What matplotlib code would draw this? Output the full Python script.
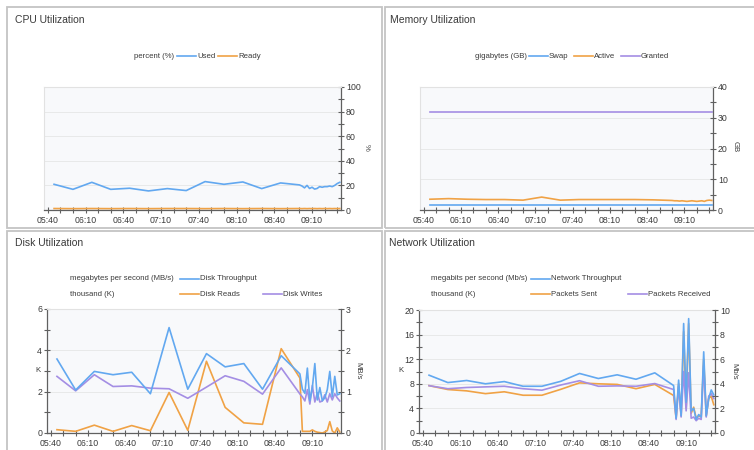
import numpy as np
import matplotlib
matplotlib.use('Agg')
from matplotlib import pyplot as plt
from matplotlib.lines import Line2D
from matplotlib.patches import Rectangle
from matplotlib.ticker import MultipleLocator, FixedLocator

plt.rcParams['font.family'] = ['Liberation Sans', 'DejaVu Sans']

# ---------------------------- Data ----------------------------
time_labels = ['05:40', '06:10', '06:40', '07:10', '07:40', '08:10', '08:40', '09:10']
label_minutes = [0, 30, 60, 90, 120, 150, 180, 210]          # minutes after 05:40
sample_minutes = [5, 20, 35, 50, 65, 80, 95, 110, 125, 140, 155, 170, 185, 200,
                  202, 204, 206, 208, 210, 212, 214, 216, 218, 220, 222, 224, 226, 228, 230, 232]

# CPU (%)
cpu_used = [20.9, 16.8, 22.5, 16.8, 17.7, 15.5, 17.4, 15.8, 23.1, 20.9, 22.8, 17.4, 22.0, 20.4,
            19.5, 18.0, 20.0, 17.5, 18.5, 17.0, 17.5, 19.0, 18.5, 19.0, 19.0, 19.5, 19.0, 20.0, 21.5, 22.5]
cpu_ready = [1.2, 1.1, 1.2, 1.1, 1.2, 1.1, 1.2, 1.2, 1.1, 1.2, 1.1, 1.2, 1.1, 1.2,
             1.1, 1.2, 1.1, 1.2, 1.1, 1.2, 1.1, 1.2, 1.1, 1.2, 1.1, 1.2, 1.1, 1.2, 1.1, 1.2]

# Memory (GB)
mem_swap = [1.6, 1.6, 1.6, 1.6, 1.6, 1.6, 1.6, 1.6, 1.6, 1.6, 1.6, 1.6, 1.6, 1.6,
            1.6, 1.6, 1.6, 1.6, 1.6, 1.6, 1.6, 1.6, 1.6, 1.6, 1.6, 1.6, 1.6, 1.6, 1.6, 1.6]
mem_active = [3.5, 3.7, 3.5, 3.4, 3.4, 3.2, 4.2, 3.2, 3.4, 3.4, 3.4, 3.4, 3.3, 3.1,
              3.0, 3.0, 2.9, 3.0, 2.9, 2.8, 2.9, 3.0, 2.9, 2.8, 2.9, 3.0, 2.8, 3.1, 3.2, 3.1]
mem_granted = [32, 32, 32, 32, 32, 32, 32, 32, 32, 32, 32, 32, 32, 32,
               32, 32, 32, 32, 32, 32, 32, 32, 32, 32, 32, 32, 32, 32, 32, 32]

# Disk
disk_throughput = [1.79, 1.04, 1.49, 1.41, 1.47, 0.95, 2.55, 1.06, 1.92, 1.60, 1.68, 1.06, 1.87, 1.43,
                   1.06, 0.96, 1.57, 0.78, 1.10, 1.68, 0.80, 1.10, 0.78, 0.85, 1.05, 1.49, 0.88, 1.37, 0.92, 0.95]  # MB/s
disk_reads = [0.16, 0.08, 0.38, 0.08, 0.36, 0.11, 1.96, 0.13, 3.47, 1.24, 0.49, 0.42, 4.08, 2.66,
              0.08, 0.08, 0.08, 0.08, 0.15, 0.08, 0.04, 0.02, 0.0, 0.05, 0.12, 0.55, 0.1, 0.0, 0.25, 0.05]   # K
disk_writes = [2.74, 2.04, 2.82, 2.25, 2.28, 2.17, 2.14, 1.68, 2.22, 2.77, 2.5, 1.88, 3.15, 1.89,
               1.75, 1.55, 2.1, 1.4, 2.3, 1.5, 1.95, 1.5, 1.55, 1.85, 1.5, 1.9, 1.6, 1.9, 1.7, 1.55]       # K

# Network
net_throughput = [4.7, 4.1, 4.27, 4.0, 4.18, 3.8, 3.8, 4.2, 4.84, 4.43, 4.73, 4.37, 4.89, 3.86,
                  1.2, 4.3, 1.4, 8.9, 2.5, 9.3, 1.8, 2.0, 1.1, 1.5, 1.3, 6.6, 1.4, 2.8, 3.5, 3.1]      # Mb/s
net_sent = [7.7, 7.07, 6.85, 6.4, 6.7, 6.14, 6.14, 7.1, 8.15, 8.0, 7.9, 7.2, 7.9, 6.1,
            2.4, 8.0, 2.8, 16.5, 4.0, 17.8, 3.2, 4.2, 2.4, 2.8, 2.6, 12.0, 2.8, 5.6, 6.0, 4.6]        # K
net_received = [7.7, 7.2, 7.4, 7.5, 7.6, 7.2, 6.96, 7.8, 8.5, 7.6, 7.66, 7.6, 8.04, 7.07,
                2.2, 7.6, 2.6, 10.0, 3.6, 9.8, 2.4, 2.6, 2.0, 2.4, 2.2, 11.0, 2.6, 6.0, 6.4, 5.6]  # K

# ---------------------------- Style ----------------------------
W, H = 754, 450
BLUE = '#62a8f0'
ORANGE = '#f0a245'
PURPLE = '#a48ee4'
TEXT = '#3a3a3a'
SPINE = '#606060'
LW = 1.2
TICK_FS = 6.3
LEG_FS = 5.6


def fx(x):
    return x / W


def fy(y):
    return 1 - y / H


def add_ax(x0, y0, x1, y1):
    return fig.add_axes([fx(x0), fy(y1), (x1 - x0) / W, (y1 - y0) / H])


def style_time_axis(ax):
    ax.set_xlim(-3, 233)
    ax.xaxis.set_major_locator(FixedLocator(label_minutes))
    ax.set_xticklabels(time_labels)
    ax.xaxis.set_minor_locator(MultipleLocator(10))
    ax.tick_params(axis='x', which='both', direction='inout', length=4, width=0.8,
                   color=SPINE, labelsize=TICK_FS, labelcolor=TEXT, pad=2.5)
    ax.set_facecolor('#f8f9fb')
    ax.spines['top'].set_color('#e2e2e2')
    ax.spines['bottom'].set_color(SPINE)
    ax.spines['bottom'].set_linewidth(0.9)
    ax.yaxis.grid(True, color='#e6e6e6', lw=0.6)
    ax.set_axisbelow(True)


def style_y(ax, side, top, major, minor):
    ax.set_ylim(0, top)
    ax.yaxis.set_major_locator(MultipleLocator(major))
    ax.yaxis.set_minor_locator(MultipleLocator(minor))
    ax.tick_params(axis='y', which='both', direction='inout', length=4, width=0.8,
                   color=SPINE, labelsize=TICK_FS, labelcolor=TEXT, pad=1.5)
    if side == 'right':
        ax.yaxis.tick_right()
        ax.spines['right'].set_color(SPINE)
        ax.spines['right'].set_linewidth(0.9)
    else:
        ax.spines['left'].set_color(SPINE)
        ax.spines['left'].set_linewidth(0.9)


def legend_item(x_line, y, color, label):
    fig.add_artist(Line2D([fx(x_line), fx(x_line + 19)], [fy(y), fy(y)], color=color, lw=LW))
    fig.text(fx(x_line + 20), fy(y), label, fontsize=LEG_FS, color=TEXT, va='center', ha='left')


fig = plt.figure(figsize=(W / 100, H / 100), dpi=100)

# panel frames
for (x0, y0, x1, y1) in [(7, 7, 382, 228), (385, 7, 760, 228), (7, 231, 382, 460), (385, 231, 760, 460)]:
    fig.add_artist(Rectangle((fx(x0), fy(y1)), (x1 - x0) / W, (y1 - y0) / H, transform=fig.transFigure,
                             fill=False, edgecolor='#c4c4c4', lw=1.3))

# ---------------------------- CPU ----------------------------
fig.text(fx(15), fy(20), 'CPU Utilization', fontsize=7.5, color=TEXT, va='center')
ax = add_ax(44, 87, 341, 210)
style_time_axis(ax)
ax.spines['left'].set_color('#e2e2e2')
style_y(ax, 'right', 100, 20, 10)
ax.tick_params(axis='y', which='both', left=False)
ax.plot(sample_minutes, cpu_used, color=BLUE, lw=LW)
ax.plot(sample_minutes, cpu_ready, color=ORANGE, lw=LW)
fig.text(fx(366), fy(147), '%', fontsize=LEG_FS, color=TEXT, va='center', ha='center', rotation=-90)
fig.text(fx(174), fy(56), 'percent (%)', fontsize=LEG_FS, color=TEXT, va='center', ha='right')
legend_item(177, 56, BLUE, 'Used')
legend_item(218, 56, ORANGE, 'Ready')

# ---------------------------- Memory ----------------------------
fig.text(fx(390), fy(20), 'Memory Utilization', fontsize=7.5, color=TEXT, va='center')
ax = add_ax(420, 87, 713, 210)
style_time_axis(ax)
ax.spines['left'].set_color('#e2e2e2')
style_y(ax, 'right', 40, 10, 5)
ax.tick_params(axis='y', which='both', left=False)
ax.plot(sample_minutes, mem_swap, color=BLUE, lw=LW)
ax.plot(sample_minutes, mem_active, color=ORANGE, lw=LW)
ax.plot(sample_minutes, mem_granted, color=PURPLE, lw=LW)
fig.text(fx(735), fy(147), 'GB', fontsize=LEG_FS, color=TEXT, va='center', ha='center', rotation=-90)
fig.text(fx(527), fy(56), 'gigabytes (GB)', fontsize=LEG_FS, color=TEXT, va='center', ha='right')
legend_item(529, 56, BLUE, 'Swap')
legend_item(574, 56, ORANGE, 'Active')
legend_item(621, 56, PURPLE, 'Granted')

# ---------------------------- Disk ----------------------------
fig.text(fx(15), fy(243), 'Disk Utilization', fontsize=7.5, color=TEXT, va='center')
ax = add_ax(47, 309, 341, 433)
style_time_axis(ax)
style_y(ax, 'left', 6, 2, 1)
ax.spines['right'].set_visible(False)
ax.plot(sample_minutes, disk_reads, color=ORANGE, lw=LW)
ax.plot(sample_minutes, disk_writes, color=PURPLE, lw=LW)
ax2 = ax.twinx()
ax2.set_xlim(-3, 233)
for s in ['top', 'left', 'bottom']:
    ax2.spines[s].set_visible(False)
style_y(ax2, 'right', 3, 1, 0.5)
ax2.plot(sample_minutes, disk_throughput, color=BLUE, lw=LW)
fig.text(fx(38), fy(371), 'K', fontsize=LEG_FS, color=TEXT, va='center', ha='center')
fig.text(fx(358), fy(371), 'MB/s', fontsize=LEG_FS, color=TEXT, va='center', ha='center', rotation=-90)
fig.text(fx(70), fy(279), 'megabytes per second (MB/s)', fontsize=LEG_FS, color=TEXT, va='center')
fig.text(fx(70), fy(294), 'thousand (K)', fontsize=LEG_FS, color=TEXT, va='center')
legend_item(180, 279, BLUE, 'Disk Throughput')
legend_item(180, 294, ORANGE, 'Disk Reads')
legend_item(263, 294, PURPLE, 'Disk Writes')

# ---------------------------- Network ----------------------------
fig.text(fx(389), fy(243), 'Network Utilization', fontsize=7.5, color=TEXT, va='center')
ax = add_ax(419, 310, 715, 433)
style_time_axis(ax)
style_y(ax, 'left', 20, 4, 2)
ax.spines['right'].set_visible(False)
ax.plot(sample_minutes, net_sent, color=ORANGE, lw=LW)
ax.plot(sample_minutes, net_received, color=PURPLE, lw=LW)
ax2 = ax.twinx()
ax2.set_xlim(-3, 233)
for s in ['top', 'left', 'bottom']:
    ax2.spines[s].set_visible(False)
style_y(ax2, 'right', 10, 2, 1)
ax2.plot(sample_minutes, net_throughput, color=BLUE, lw=LW)
fig.text(fx(401), fy(371), 'K', fontsize=LEG_FS, color=TEXT, va='center', ha='center')
fig.text(fx(734), fy(371), 'Mb/s', fontsize=LEG_FS, color=TEXT, va='center', ha='center', rotation=-90)
fig.text(fx(431), fy(279), 'megabits per second (Mb/s)', fontsize=LEG_FS, color=TEXT, va='center')
fig.text(fx(431), fy(294), 'thousand (K)', fontsize=LEG_FS, color=TEXT, va='center')
legend_item(531, 279, BLUE, 'Network Throughput')
legend_item(531, 294, ORANGE, 'Packets Sent')
legend_item(628, 294, PURPLE, 'Packets Received')

fig.savefig('out.png', dpi=100, facecolor='white')
